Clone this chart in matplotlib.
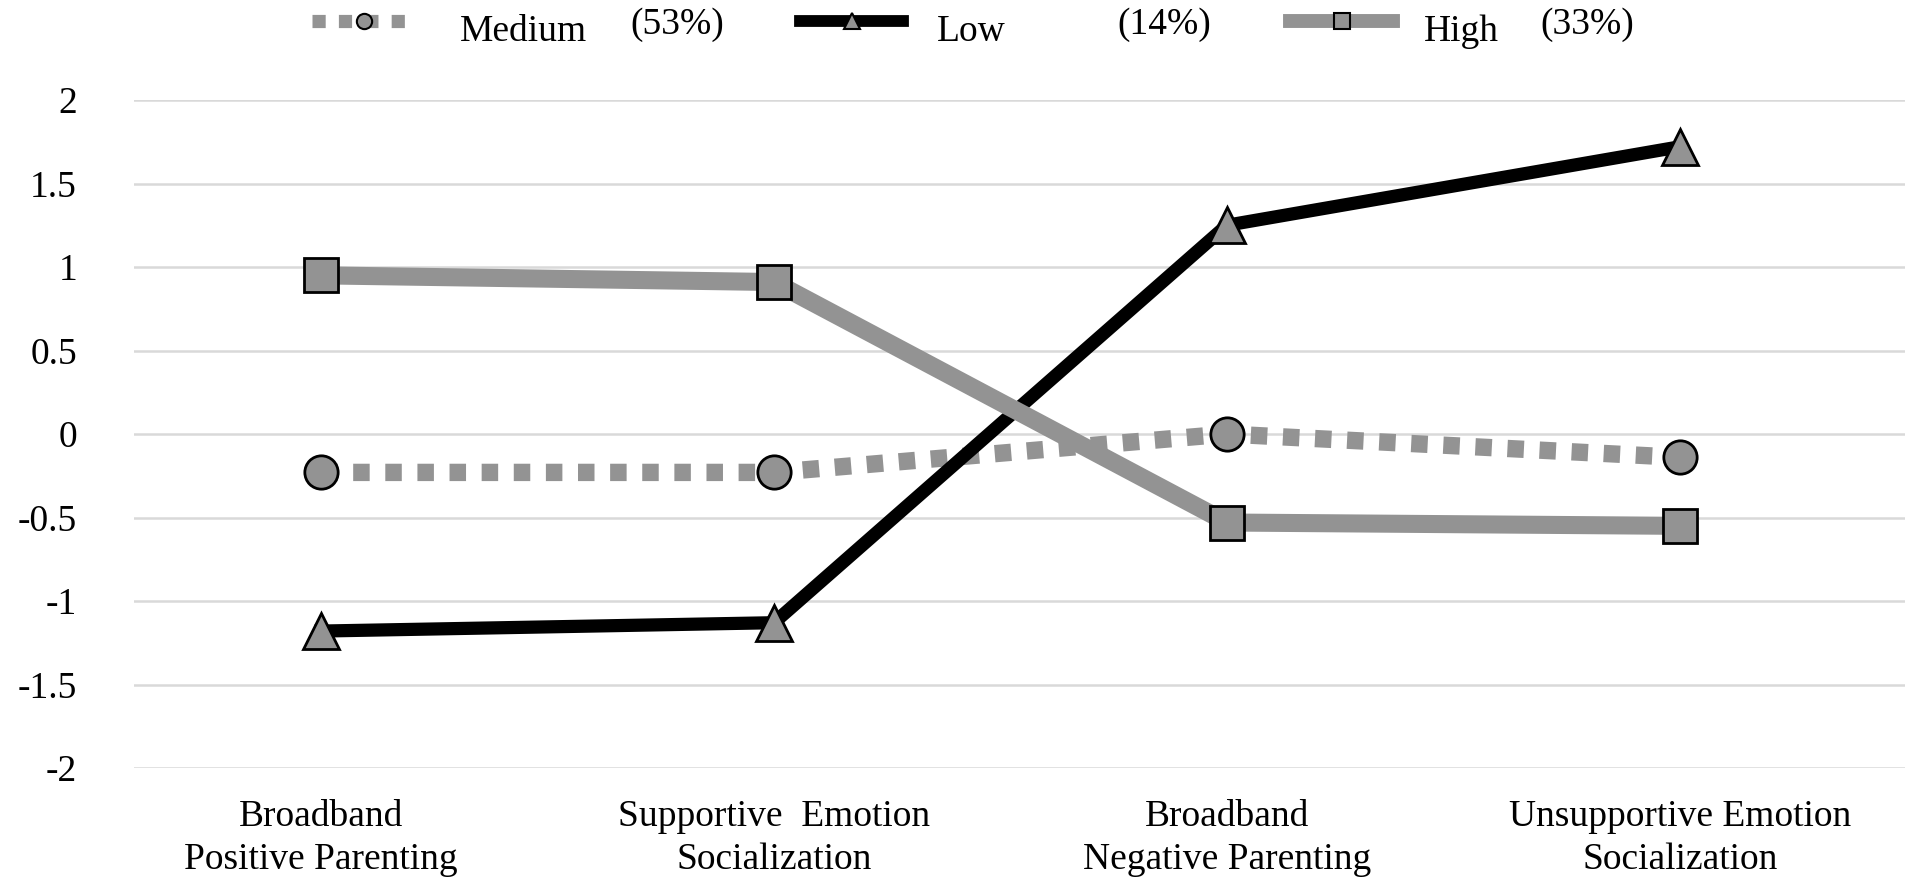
import matplotlib
matplotlib.use("Agg")
import matplotlib.pyplot as plt
from matplotlib.lines import Line2D

# categorias del eje x
categorias = ["Broadband\nPositive Parenting",
              "Supportive  Emotion\nSocialization",
              "Broadband\nNegative Parenting",
              "Unsupportive Emotion\nSocialization"]

# valores de cada perfil
medium = [-0.23, -0.23, 0.0, -0.14]
low = [-1.18, -1.13, 1.25, 1.72]
high = [0.95, 0.91, -0.53, -0.55]

nombres = ["Medium", "Low", "High"]
porcentajes = ["(53%)", "(14%)", "(33%)"]
yticks = [-2, -1.5, -1, -0.5, 0, 0.5, 1, 1.5, 2]

gris = "#939393"
plt.rcParams["font.family"] = ["Liberation Serif", "DejaVu Serif"]
fs = 27

W, H = 1913, 883
fig = plt.figure(figsize=(W / 100, H / 100), dpi=100)
ax = fig.add_axes([134 / W, 1 - 768 / H, (1905 - 134) / W, 668 / H])

x = list(range(len(categorias)))

ax.plot(x, medium, color=gris, lw=12.5, linestyle=(0, (0.95, 0.9)), dash_capstyle="butt",
        marker="o", ms=24, mfc=gris, mec="black", mew=2, clip_on=False, zorder=3)
ax.plot(x, low, color="black", lw=9.5, solid_joinstyle="miter",
        marker="^", ms=26, mfc=gris, mec="black", mew=2, clip_on=False, zorder=4)
ax.plot(x, high, color=gris, lw=13, solid_joinstyle="miter",
        marker="s", ms=24, mfc=gris, mec="black", mew=2, clip_on=False, zorder=5)

ax.set_xlim(-0.413, 3.497)
ax.set_ylim(-2, 2)
ax.set_yticks(yticks)
ax.set_yticklabels([f"{v:g}" for v in yticks])
ax.set_xticks(x)
ax.set_xticklabels(categorias, fontsize=fs, linespacing=1.3)
ax.tick_params(axis="y", labelsize=fs, length=0, pad=41)
ax.tick_params(axis="x", length=0, pad=23)
ax.grid(axis="y", color="#d9d9d9", lw=1.8)
ax.set_axisbelow(True)
for s in ax.spines.values():
    s.set_visible(False)

# leyenda: una entrada por perfil, el porcentaje va aparte
manijas = [
    Line2D([], [], color=gris, lw=9.5, linestyle=(0, (1.0, 1.0)), dash_capstyle="butt",
           marker="o", ms=11, mfc=gris, mec="black", mew=1.5),
    Line2D([], [], color="black", lw=8.5, marker="^", ms=12, mfc=gris, mec="black", mew=1.5),
    Line2D([], [], color=gris, lw=10, marker="s", ms=12, mfc=gris, mec="black", mew=1.5),
]
x_manija = [312, 800, 1290]
pad_texto = [45, 34, 31]
x_pct = [630, 1117, 1540]
for i in range(3):
    fig.legend([manijas[i]], [nombres[i]], loc="lower left",
               bbox_to_anchor=(x_manija[i] / W, 1 - 57 / H), frameon=False, fontsize=fs,
               borderpad=0, borderaxespad=0, handlelength=103 / 37.5, handleheight=1.92,
               handletextpad=pad_texto[i] / 37.5)
    fig.text(x_pct[i] / W, 1 - 34 / H, porcentajes[i], fontsize=fs, va="baseline", ha="left")

fig.savefig("out.png", dpi=100)
